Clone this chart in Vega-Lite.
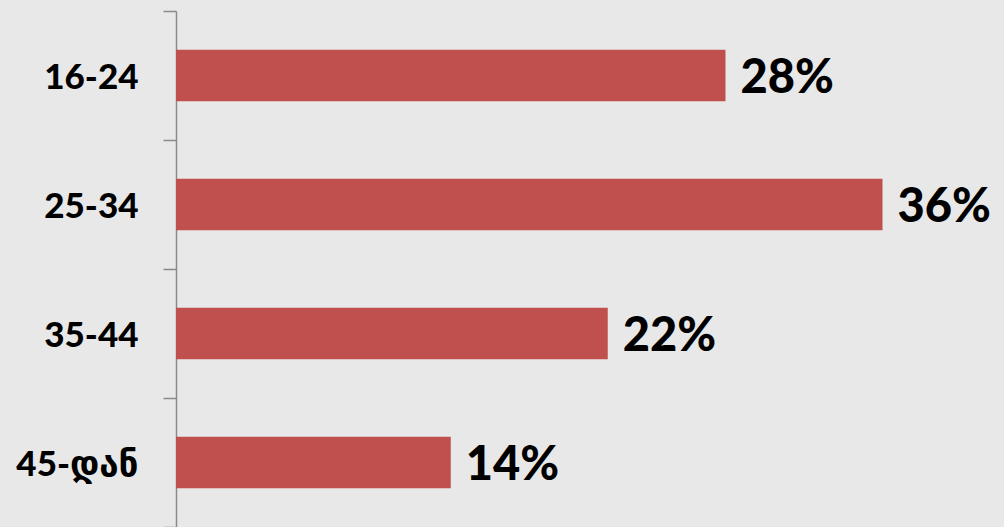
{
  "$schema": "https://vega.github.io/schema/vega-lite/v6.json",
  "autosize": {"type": "none"},
  "width": 785,
  "height": 516,
  "padding": {"left": 176, "top": 11, "right": 43, "bottom": 0},
  "background": "#e8e8e8",
  "config": {"view": {"stroke": null}},
  "data": {
    "values": [
      {"age": "16-24", "pct": 28, "label": "28%"},
      {"age": "25-34", "pct": 36, "label": "36%"},
      {"age": "35-44", "pct": 22, "label": "22%"},
      {"age": "45-დან", "pct": 14, "label": "14%"}
    ]
  },
  "encoding": {
    "y": {
      "field": "age",
      "type": "nominal",
      "sort": null,
      "scale": {"paddingInner": 0, "paddingOuter": 0},
      "axis": {
        "title": null,
        "tickBand": "extent",
        "domainColor": "#8a8a8a",
        "domainWidth": 1.5,
        "tickColor": "#8a8a8a",
        "tickWidth": 1.5,
        "tickSize": 13,
        "labelPadding": 25,
        "labelFont": "Lato, DejaVu Sans",
        "labelFontSize": 35,
        "labelFontWeight": 900,
        "labelColor": "#000000",
        "labelOffset": 2,
        "grid": false
      }
    },
    "x": {
      "field": "pct",
      "type": "quantitative",
      "scale": {"domain": [0, 40], "nice": false},
      "axis": null
    }
  },
  "layer": [
    {
      "mark": {"type": "bar", "color": "#C0504D", "height": {"band": 0.4}}
    },
    {
      "mark": {
        "type": "text",
        "align": "left",
        "baseline": "middle",
        "dx": 15,
        "dy": 3,
        "font": "Lato, DejaVu Sans",
        "fontSize": 47,
        "fontWeight": 900,
        "color": "#000000"
      },
      "encoding": {"text": {"field": "label"}}
    }
  ]
}
